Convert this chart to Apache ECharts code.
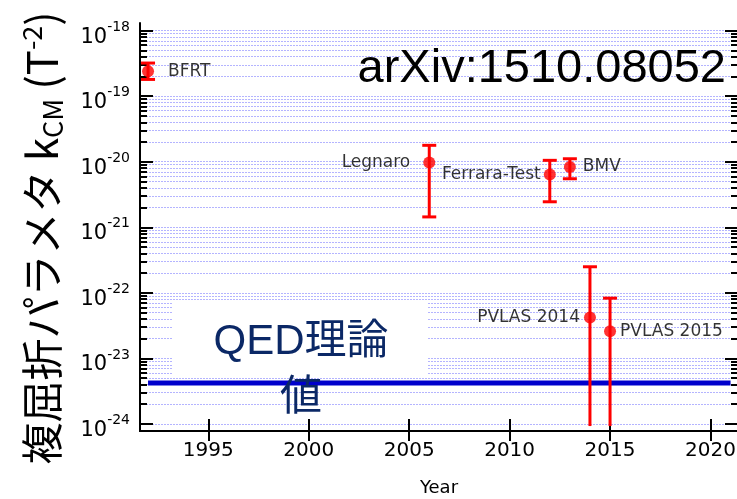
<!DOCTYPE html>
<html><head><meta charset="utf-8">
<script src="https://cdn.jsdelivr.net/npm/echarts@6/dist/echarts.min.js"></script>
<style>html,body{margin:0;padding:0;background:#fff}#c{width:737px;height:499px}</style>
</head><body><div id="c"></div>
<script>
// ---- data ----
const experiments = ['BFRT', 'Legnaro', 'Ferrara-Test', 'BMV', 'PVLAS 2014', 'PVLAS 2015'];
const years = [1992, 2006, 2012, 2013, 2014, 2015];
const kcm = [2.4e-19, 9.7e-21, 6.4e-21, 8.3e-21, 4.2e-23, 2.6e-23];
const errHigh = [3.2e-19, 1.78e-20, 1.05e-20, 1.11e-20, 2.5e-22, 8.3e-23];
const errLow = [1.8e-19, 1.44e-21, 2.45e-21, 5.5e-21, 9.3e-25, 9.3e-25];
const qedValue = 4.2e-24;
const qedYears = [1992, 2021];
const xTicks = [1995, 2000, 2005, 2010, 2015, 2020];
const yDecades = [-24, -23, -22, -21, -20, -19, -18];
const minorMultipliers = [2, 3, 4, 5, 6, 7, 8, 9];

// ---- presentation ----
const labelSide = ['right', 'left', 'left', 'right', 'left', 'right'];
const labelDist = [14, 13, 3, 7, 4, 4];
const yMin = Math.pow(10, -24.107), yMax = Math.pow(10, -17.884);
const xMin = 1991.6, xMax = 2021.37;
const majorVals = yDecades.map(e => Math.pow(10, e));
const minorVals = [];
yDecades.slice(0, -1).forEach(e => minorMultipliers.forEach(m => minorVals.push(m * Math.pow(10, e))));
const allVals = majorVals.concat(minorVals);
const FONT = '"DejaVu Sans", sans-serif';

function yAxisDef(pos, vals, len, showLine, showLabel, showSplit) {
  return {
    type: 'log', logBase: 10, position: pos, min: yMin, max: yMax,
    axisLine: { show: showLine, lineStyle: { color: '#000', width: 2 } },
    axisTick: { show: true, inside: true, length: len, customValues: vals, lineStyle: { color: '#000', width: 2 } },
    axisLabel: {
      show: showLabel, customValues: majorVals, margin: 10,
      formatter: v => '{b|10}{s|' + Math.round(Math.log10(v)) + '}',
      rich: {
        b: { fontSize: 21, fontFamily: FONT, color: '#000', padding: [13, 0, 0, 0], lineHeight: 21 },
        s: { fontSize: 14, fontFamily: FONT, color: '#000', verticalAlign: 'top', lineHeight: 14 }
      }
    },
    splitLine: { show: showSplit, lineStyle: { color: '#b4b4ff', width: 1, type: [2, 1] } },
    minorTick: { show: false }, minorSplitLine: { show: false }
  };
}

const chart = echarts.init(document.getElementById('c'), null, { renderer: 'canvas' });
chart.setOption({
  animation: false,
  backgroundColor: '#fff',
  grid: { left: 140, right: -1, top: 23, bottom: 68, containLabel: false, outerBoundsMode: 'none' },
  xAxis: [
    {
      type: 'value', position: 'bottom', min: xMin, max: xMax,
      name: 'Year', nameLocation: 'middle', nameGap: 48,
      nameTextStyle: { fontSize: 18, fontFamily: FONT, color: '#000' },
      axisLine: { show: true, lineStyle: { color: '#000', width: 2 } },
      axisTick: { inside: true, length: 12, customValues: xTicks, lineStyle: { color: '#000', width: 2 } },
      axisLabel: { customValues: xTicks, margin: 10, fontSize: 20, fontFamily: FONT, color: '#000', formatter: v => String(v) },
      splitLine: { show: false }
    },
    {
      type: 'value', position: 'top', min: xMin, max: xMax,
      axisLine: { show: true, lineStyle: { color: '#000', width: 2 } },
      axisTick: { inside: true, length: 10, customValues: xTicks, lineStyle: { color: '#000', width: 2 } },
      axisLabel: { show: false }, splitLine: { show: false }
    }
  ],
  yAxis: [
    yAxisDef('left', majorVals, 13, true, true, false),
    yAxisDef('left', allVals, 7, false, false, true),
    yAxisDef('right', majorVals, 13, true, false, false),
    yAxisDef('right', minorVals, 7, false, false, false)
  ],
  series: [
    {
      type: 'line', xAxisIndex: 0, yAxisIndex: 0, z: 2,
      data: qedYears.map(y => [y, qedValue]),
      symbol: 'none', lineStyle: { color: '#0000cc', width: 5 }
    },
    {
      type: 'custom', xAxisIndex: 0, yAxisIndex: 0, z: 4,
      data: years.map((y, i) => [y, errLow[i], errHigh[i]]),
      encode: { x: 0, y: [1, 2] },
      renderItem: function (params, api) {
        const x = api.value(0), lo = api.value(1), hi = api.value(2);
        const pHi = api.coord([x, hi]), pLo = api.coord([x, lo]);
        const w = 7, st = { stroke: '#ff0000', lineWidth: 3 };
        const ch = [
          { type: 'line', shape: { x1: pHi[0], y1: pHi[1], x2: pLo[0], y2: pLo[1] }, style: st },
          { type: 'line', shape: { x1: pHi[0] - w, y1: pHi[1], x2: pHi[0] + w, y2: pHi[1] }, style: st }
        ];
        if (lo >= majorVals[0] * 0.999) {
          ch.push({ type: 'line', shape: { x1: pLo[0] - w, y1: pLo[1], x2: pLo[0] + w, y2: pLo[1] }, style: st });
        }
        return { type: 'group', children: ch };
      }
    },
    {
      type: 'scatter', xAxisIndex: 0, yAxisIndex: 0, z: 5,
      symbol: 'circle', symbolSize: 12,
      itemStyle: { color: '#ff0000' },
      data: years.map((y, i) => ({
        value: [y, kcm[i]], name: experiments[i],
        label: { position: labelSide[i], distance: labelDist[i] }
      })),
      label: { show: true, formatter: p => p.name, fontSize: 17, fontFamily: FONT, color: '#000' }
    }
  ],
  graphic: [
    {
      type: 'text', x: 42, y: 238, rotation: Math.PI / 2, z: 10,
      style: {
        text: '{m|複屈折パラメタ k}{sub|CM}{m| (T}{sup|-2}{m|)}',
        align: 'center', verticalAlign: 'middle',
        rich: {
          m: { fontSize: 42, fontFamily: '"Noto Sans CJK JP", sans-serif', fill: '#000', lineHeight: 48 },
          sub: { fontSize: 27, fontFamily: '"Noto Sans CJK JP", sans-serif', fill: '#000', verticalAlign: 'bottom', lineHeight: 32 },
          sup: { fontSize: 27, fontFamily: '"Noto Sans CJK JP", sans-serif', fill: '#000', verticalAlign: 'top', lineHeight: 32 }
        }
      }
    },
    {
      type: 'text', x: 726, y: 69, z: 10,
      style: { text: 'arXiv:1510.08052', align: 'right', verticalAlign: 'middle', fontSize: 47, fontFamily: '"Liberation Sans", Arial, sans-serif', fill: '#000' }
    },
    { type: 'rect', z: 1, shape: { x: 172, y: 303, width: 256, height: 73 }, style: { fill: '#fff' } },
    {
      type: 'text', x: 301, y: 342, z: 10,
      style: { text: 'QED理論', align: 'center', verticalAlign: 'middle', fontSize: 42, fontFamily: '"Liberation Sans", "Noto Sans CJK JP", sans-serif', fill: '#0b2866' }
    },
    {
      type: 'text', x: 301, y: 394, z: 10,
      style: { text: '値', align: 'center', verticalAlign: 'middle', fontSize: 42, fontFamily: '"Noto Sans CJK JP", sans-serif', fill: '#0b2866' }
    }
  ]
});
</script>
</body></html>
